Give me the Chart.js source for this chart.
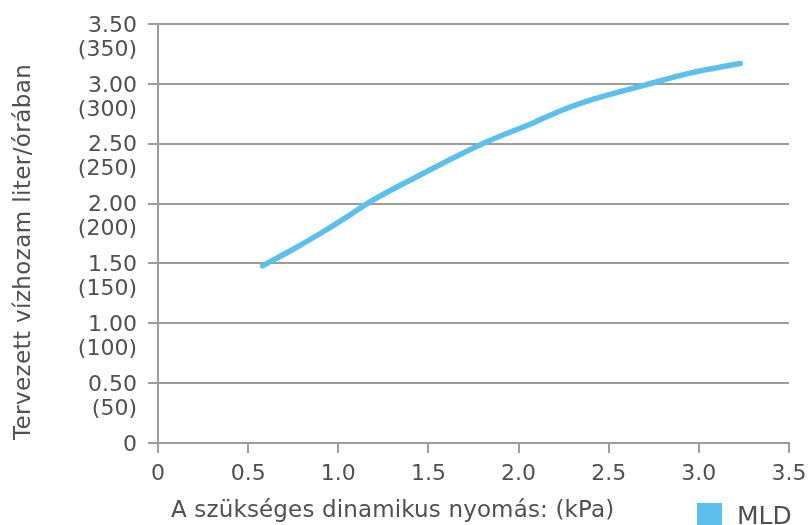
<!DOCTYPE html>
<html>
<head>
<meta charset="utf-8">
<script src="https://cdn.jsdelivr.net/npm/chart.js@4/dist/chart.umd.min.js"></script>
<style>
  html, body { margin: 0; padding: 0; background: #ffffff; }
  #wrap { width: 808px; height: 525px; position: relative; }
</style>
</head>
<body>
<div id="wrap"><canvas id="c" width="808" height="525"></canvas></div>
<script>
// Data
const seriesName = 'MLD';
const pressureKPa = [0.58, 0.74, 0.90, 1.07, 1.16, 1.43, 1.80, 2.09, 2.24, 2.41, 2.70, 2.95, 3.23];
const flowLiterPerHour = [1.48, 1.61, 1.75, 1.91, 2.00, 2.22, 2.50, 2.68, 2.78, 2.87, 2.99, 3.09, 3.17];
const xTickValues = [0, 0.5, 1.0, 1.5, 2.0, 2.5, 3.0, 3.5];
const yTickValues = [0, 0.5, 1.0, 1.5, 2.0, 2.5, 3.0, 3.5];
const xTitle = 'A szükséges dinamikus nyomás: (kPa)';
const yTitle = 'Tervezett vízhozam liter/órában';

const FONT = '"DejaVu Sans", "Open Sans", sans-serif';
const TEXT = '#505050';
const GRID = '#a09c98';
const LINE = '#5dbfeb';

const points = pressureKPa.map((x, i) => ({ x: x, y: flowLiterPerHour[i] }));

const overlay = {
  id: 'overlay',
  afterDraw(chart) {
    const ctx = chart.ctx;
    ctx.save();
    ctx.fillStyle = TEXT;
    // x-axis title
    ctx.font = '23px ' + FONT;
    ctx.textAlign = 'left';
    ctx.textBaseline = 'alphabetic';
    ctx.letterSpacing = '0.15px';
    ctx.fillText(xTitle, 171, 517);
    // y-axis title
    ctx.save();
    ctx.letterSpacing = '0.4px';
    ctx.translate(30, 440);
    ctx.rotate(-Math.PI / 2);
    ctx.fillText(yTitle, 0, 0);
    ctx.restore();
    // legend
    ctx.letterSpacing = '0px';
    const ds = chart.data.datasets[0];
    ctx.fillStyle = ds.borderColor;
    ctx.fillRect(697, 503, 25, 25);
    ctx.fillStyle = TEXT;
    ctx.font = '25px ' + FONT;
    ctx.textBaseline = 'alphabetic';
    ctx.fillText(ds.label, 737, 524);
    ctx.restore();
  }
};

new Chart(document.getElementById('c'), {
  type: 'line',
  data: {
    datasets: [{
      label: seriesName,
      data: points,
      borderColor: LINE,
      backgroundColor: LINE,
      borderWidth: 5.5,
      borderCapStyle: 'round',
      borderJoinStyle: 'round',
      pointRadius: 0,
      cubicInterpolationMode: 'monotone',
      fill: false
    }]
  },
  options: {
    responsive: false,
    animation: false,
    devicePixelRatio: 1,
    layout: { padding: { top: 24, right: 19, bottom: 0, left: 0 } },
    plugins: { legend: { display: false }, tooltip: { enabled: false } },
    scales: {
      x: {
        type: 'linear',
        min: 0, max: 3.5,
        afterFit: s => { s.height = 82; s.paddingLeft = 0; s.paddingRight = 0; },
        afterBuildTicks: s => { s.ticks = xTickValues.map(v => ({ value: v })); },
        border: { display: true, color: GRID, width: 2 },
        grid: { drawOnChartArea: false, drawTicks: true, tickLength: 10, color: GRID, lineWidth: 2 },
        ticks: {
          color: TEXT,
          padding: 8,
          maxRotation: 0,
          autoSkip: false,
          font: { family: FONT, size: 22 },
          callback: v => v === 0 ? '0' : v.toFixed(1)
        }
      },
      y: {
        type: 'linear',
        min: 0, max: 3.5,
        afterFit: s => { s.width = 158; s.paddingTop = 0; s.paddingBottom = 0; },
        afterBuildTicks: s => { s.ticks = yTickValues.map(v => ({ value: v })); },
        border: { display: true, color: GRID, width: 2 },
        grid: { drawOnChartArea: true, drawTicks: true, tickLength: 10, color: GRID, lineWidth: 2 },
        ticks: {
          color: TEXT,
          padding: 11,
          labelOffset: 2,
          autoSkip: false,
          font: { family: FONT, size: 22, lineHeight: '24px' },
          callback: v => v === 0 ? '0' : [' ', v.toFixed(2), '(' + Math.round(v * 100) + ')']
        }
      }
    }
  },
  plugins: [overlay]
});
</script>
</body>
</html>
